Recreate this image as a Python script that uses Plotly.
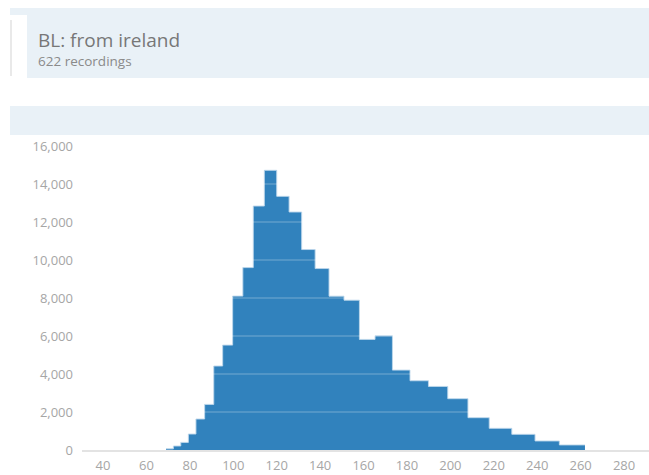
import plotly.graph_objects as go

# ---- data ----
bin_edges = [69.0, 72.4, 75.8, 79.3, 82.8, 86.8, 91.0, 95.1, 99.7, 104.4,
             109.2, 114.3, 120.0, 125.7, 131.5, 137.7, 144.1, 151.0, 158.1,
             165.3, 173.3, 181.4, 189.9, 198.8, 208.1, 217.9, 228.3, 239.0,
             250.2, 262.0]
counts = [60, 210, 400, 840, 1630, 2400, 4420, 5520, 8100, 9600,
          12840, 14720, 13350, 12525, 10550, 9550, 8095, 7885, 5820,
          6010, 4205, 3645, 3345, 2700, 1700, 1140, 825, 475, 265]
x_ticks = [40, 60, 80, 100, 120, 140, 160, 180, 200, 220, 240, 260, 280]
y_ticks = [0, 2000, 4000, 6000, 8000, 10000, 12000, 14000, 16000]
title_text = "BL: from ireland"
subtitle_text = "622 recordings"

# body margin is removed by the post script, so figure fills the window
W, H = 649, 475
ML, MR, MT, MB = 82, 0, 146, 25
PW, PH = W - ML - MR, H - MT - MB


def px(x):
    return (x - ML) / PW


def py(y):
    return (H - MB - y) / PH


fig = go.Figure()
fig.add_trace(go.Scatter(
    x=bin_edges,
    y=counts + [counts[-1]],
    mode="lines",
    line=dict(shape="hv", color="rgba(190,215,235,0.9)", width=1),
    fill="tozeroy",
    fillcolor="#3182bd",
    hoverinfo="skip",
    showlegend=False,
))

shapes = []
# header band
shapes.append(dict(type="rect", xref="paper", yref="paper",
                   x0=px(10), x1=px(660), y0=py(78), y1=py(8),
                   fillcolor="#e9f1f7", line=dict(width=0), layer="below"))
shapes.append(dict(type="rect", xref="paper", yref="paper",
                   x0=px(8), x1=px(27), y0=py(80), y1=py(15),
                   fillcolor="white", line=dict(width=0), layer="below"))
shapes.append(dict(type="line", xref="paper", yref="paper",
                   x0=px(11), x1=px(11), y0=py(76), y1=py(20),
                   line=dict(color="#e2e2e2", width=1.5), layer="below"))
# second band
shapes.append(dict(type="rect", xref="paper", yref="paper",
                   x0=px(10), x1=px(660), y0=py(135), y1=py(106),
                   fillcolor="#e9f1f7", line=dict(width=0), layer="below"))
# grid lines drawn above the histogram
for v in y_ticks[1:-1]:
    shapes.append(dict(type="line", xref="paper", yref="y",
                       x0=0, x1=1, y0=v, y1=v,
                       line=dict(color="rgba(255,255,255,0.32)", width=1),
                       layer="above"))

annotations = [
    dict(text=title_text, xref="paper", yref="paper", x=px(36), y=py(40),
         xanchor="left", yanchor="middle", showarrow=False,
         font=dict(family="Open Sans", size=19, color="#777777")),
    dict(text=subtitle_text, xref="paper", yref="paper", x=px(36), y=py(61),
         xanchor="left", yanchor="middle", showarrow=False,
         font=dict(family="Open Sans", size=13.5, color="#8a8a8a")),
]

fig.update_layout(
    width=W, height=H,
    margin=dict(l=ML, r=MR, t=MT, b=MB, pad=0),
    paper_bgcolor="white", plot_bgcolor="white",
    shapes=shapes, annotations=annotations,
    font=dict(family="Open Sans", size=13, color="#a6a6a6"),
    xaxis=dict(range=[30.3, 291.5], tickvals=x_ticks,
               ticktext=[str(v) for v in x_ticks],
               showgrid=False, zeroline=False, showline=True,
               linecolor="#e3e3e3", linewidth=2, ticks="",
               ticklabelstandoff=2, fixedrange=True),
    yaxis=dict(range=[0, 16000], tickvals=y_ticks,
               ticktext=[f"{v:,}" for v in y_ticks],
               showgrid=False, zeroline=False, showline=False, ticks="",
               ticklabelstandoff=8, fixedrange=True),
)

fig.write_html(
    "out.html",
    config={"displayModeBar": False},
    post_script="document.body.style.margin='0';"
                "document.body.style.overflow='hidden';",
)
